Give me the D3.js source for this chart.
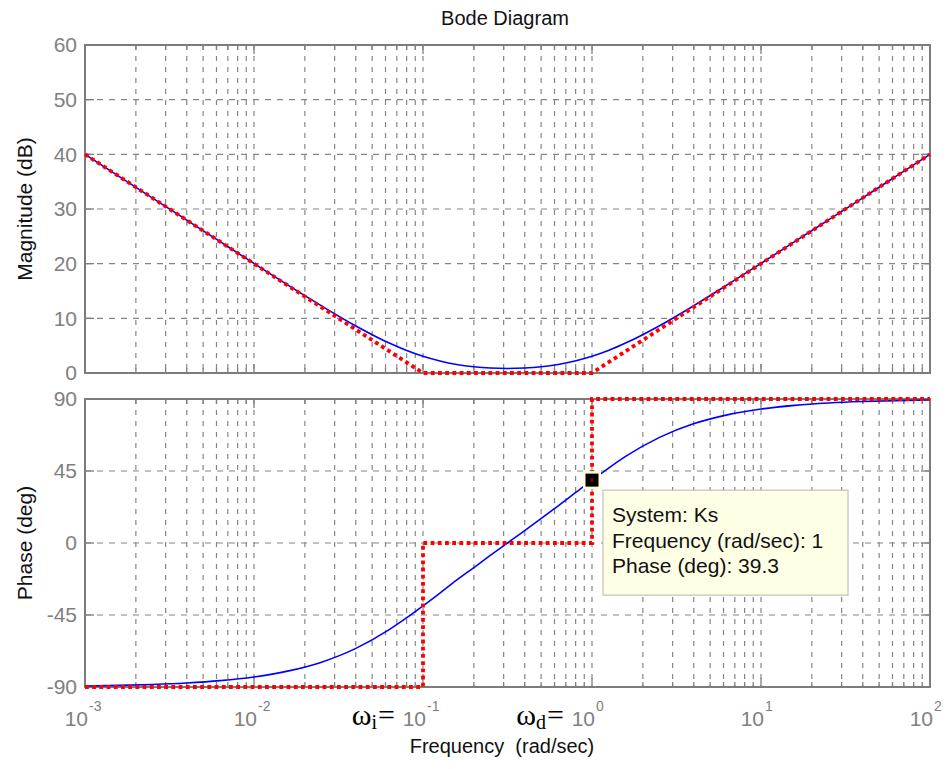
<!DOCTYPE html>
<html>
<head>
<meta charset="utf-8">
<script src="https://cdn.jsdelivr.net/npm/d3@7"></script>
<style>
  body { margin: 0; background: #fff; }
  svg text { font-family: "Liberation Sans", Arial, sans-serif; }
</style>
</head>
<body>
<svg id="chart" width="947" height="769"></svg>
<script>
// Frequency response of Ks, sampled on a log grid (rad/sec)
const freq = [0.001, 0.00158, 0.00251, 0.00398, 0.00631, 0.01, 0.0158, 0.0251, 0.0398, 0.0631,
  0.0794, 0.1, 0.126, 0.158, 0.2, 0.251, 0.316, 0.398, 0.501, 0.631, 0.794, 1,
  1.26, 1.58, 2.51, 3.98, 6.31, 10, 15.8, 25.1, 39.8, 63.1, 100];
const magnitudeDb = [40.0, 36.0, 32.0, 28.01, 24.02, 20.04, 16.11, 12.27, 8.65, 5.47,
  4.15, 3.05, 2.19, 1.56, 1.14, 0.91, 0.83, 0.91, 1.14, 1.56, 2.19, 3.05,
  4.15, 5.47, 8.65, 12.27, 16.11, 20.04, 24.02, 28.01, 32.0, 36.0, 40.0];
const phaseDeg = [-89.37, -89.0, -88.42, -87.49, -86.03, -83.72, -80.08, -74.46, -66.02, -54.14,
  -47.0, -39.29, -31.28, -23.24, -15.34, -7.6, 0, 7.6, 15.34, 23.25, 31.28, 39.29,
  47.0, 54.14, 66.02, 74.46, 80.08, 83.72, 86.03, 87.49, 88.42, 89.0, 89.37];

// Straight-line (asymptotic) approximations
const magAsymFreq = [0.001, 0.1, 1, 100];
const magAsymDb = [40, 0, 0, 40];
const phaseAsymFreq = [0.001, 0.1, 0.1, 1, 1, 100];
const phaseAsymDeg = [-90, -90, 0, 0, 90, 90];

// Axis ticks
const magTicks = [0, 10, 20, 30, 40, 50, 60];
const phaseTicks = [-90, -45, 0, 45, 90];
const decadeTicks = [0.001, 0.01, 0.1, 1, 10, 100];
const decadeExponents = ["-3", "-2", "-1", "0", "1", "2"];

// Data tip
const tipFreq = 1;
const tipPhase = 39.3;
const tipLines = ["System: Ks", "Frequency (rad/sec): 1", "Phase (deg): 39.3"];

// Corner frequency annotations
const cornerFreqs = [0.1, 1];
const cornerSubs = ["i", "d"];

const svg = d3.select("#chart");
svg.append("rect").attr("width", 947).attr("height", 769).attr("fill", "#fff");

const left = 85, right = 930;
const x = d3.scaleLog().domain([1e-3, 1e2]).range([left, right]);
const yMag = d3.scaleLinear().domain([0, 60]).range([373, 45]);
const yPh = d3.scaleLinear().domain([-90, 90]).range([687, 399]);

const gridColor = "#858585";
const axisColor = "#7c7c7c";
const tickColor = "#7f7f7f";
const labelGray = "#808080";
const allFreqTicks = x.ticks();
const isDecade = f => decadeTicks.some(d => Math.abs(d - f) / d < 1e-6);

function panel(y, yTicks) {
  const [yb, yt] = y.range();
  const g = svg.append("g");

  // vertical dashed grid
  g.append("g").selectAll("line")
    .data(allFreqTicks.filter(f => f > 1.0001e-3 && f < 99.99))
    .join("line")
    .attr("x1", d => x(d)).attr("x2", d => x(d))
    .attr("y1", yt).attr("y2", yb)
    .attr("stroke", gridColor).attr("stroke-width", 1.2)
    .attr("stroke-dasharray", "5,6");

  // horizontal dashed grid
  g.append("g").selectAll("line")
    .data(yTicks.slice(1, -1))
    .join("line")
    .attr("x1", left).attr("x2", right)
    .attr("y1", d => y(d)).attr("y2", d => y(d))
    .attr("stroke", gridColor).attr("stroke-width", 1.2)
    .attr("stroke-dasharray", "6,6");

  // inner tick marks on all four sides
  const ticks = g.append("g").attr("stroke", tickColor).attr("stroke-width", 1.3);
  allFreqTicks.forEach(f => {
    const len = isDecade(f) ? 9 : 5;
    ticks.append("line").attr("x1", x(f)).attr("x2", x(f)).attr("y1", yb).attr("y2", yb - len);
    ticks.append("line").attr("x1", x(f)).attr("x2", x(f)).attr("y1", yt).attr("y2", yt + len);
  });
  yTicks.forEach(v => {
    ticks.append("line").attr("x1", left).attr("x2", left + 9).attr("y1", y(v)).attr("y2", y(v));
    ticks.append("line").attr("x1", right).attr("x2", right - 9).attr("y1", y(v)).attr("y2", y(v));
  });

  // y tick labels via the axis generator
  const ax = g.append("g").attr("transform", `translate(${left},0)`)
    .call(d3.axisLeft(y).tickValues(yTicks).tickSize(0).tickPadding(8).tickFormat(d => String(d)));
  ax.select(".domain").remove();
  ax.selectAll("text").attr("fill", labelGray).attr("font-size", 21)
    .attr("font-family", "Liberation Sans, Arial, sans-serif");

  // frame
  g.append("rect").attr("x", left).attr("y", yt).attr("width", right - left).attr("height", yb - yt)
    .attr("fill", "none").attr("stroke", axisColor).attr("stroke-width", 2);
  return g;
}

const gMag = panel(yMag, magTicks);
const gPh = panel(yPh, phaseTicks);

const lineMag = d3.line().x((d, i) => x(freq[i])).y(d => yMag(d)).curve(d3.curveMonotoneX);
const linePh = d3.line().x((d, i) => x(freq[i])).y(d => yPh(d)).curve(d3.curveMonotoneX);

gMag.append("path").attr("d", lineMag(magnitudeDb))
  .attr("fill", "none").attr("stroke", "#0000ff").attr("stroke-width", 1.6);
gPh.append("path").attr("d", linePh(phaseDeg))
  .attr("fill", "none").attr("stroke", "#0000ff").attr("stroke-width", 1.6);

const redDot = { stroke: "#ff0000", "stroke-width": 3.8, "stroke-dasharray": "3.8,3.4", fill: "none" };
const asymMag = d3.line().x((d, i) => x(magAsymFreq[i])).y(d => yMag(d));
const asymPh = d3.line().x((d, i) => x(phaseAsymFreq[i])).y(d => yPh(d));
const pm = gMag.append("path").attr("d", asymMag(magAsymDb));
const pp = gPh.append("path").attr("d", asymPh(phaseAsymDeg));
Object.entries(redDot).forEach(([k, v]) => { pm.attr(k, v); pp.attr(k, v); });

// x tick labels (10 with superscript exponent)
const xl = svg.append("g").attr("fill", labelGray);
decadeTicks.forEach((f, i) => {
  xl.append("text").attr("x", x(f) + 3).attr("y", 726).attr("text-anchor", "end")
    .attr("font-size", 21).text("10");
  xl.append("text").attr("x", x(f) + 4).attr("y", 711).attr("text-anchor", "start")
    .attr("font-size", 14).text(decadeExponents[i]);
});

// corner frequency labels
cornerFreqs.forEach((f, i) => {
  const t = svg.append("text").attr("x", x(f) - 28).attr("y", 725).attr("text-anchor", "end")
    .attr("fill", "#000").style("font-family", "Liberation Serif, 'Times New Roman', serif")
    .attr("font-size", 30);
  t.append("tspan").text("ω");
  t.append("tspan").attr("font-size", 20).attr("dy", 4).text(cornerSubs[i]);
  t.append("tspan").attr("dy", -4).attr("dx", 1).text("=");
});

// titles
svg.append("text").attr("x", 505).attr("y", 25).attr("text-anchor", "middle")
  .attr("font-size", 20).attr("fill", "#111").text("Bode Diagram");
svg.append("text").attr("x", 502).attr("y", 753).attr("text-anchor", "middle")
  .attr("font-size", 20).attr("fill", "#111")
  .style("white-space", "pre").text("Frequency  (rad/sec)");
svg.append("text").attr("transform", `translate(32,${(yMag.range()[0] + yMag.range()[1]) / 2}) rotate(-90)`)
  .attr("text-anchor", "middle").attr("font-size", 21).attr("fill", "#111").text("Magnitude (dB)");
svg.append("text").attr("transform", `translate(32,${(yPh.range()[0] + yPh.range()[1]) / 2}) rotate(-90)`)
  .attr("text-anchor", "middle").attr("font-size", 21).attr("fill", "#111").text("Phase (deg)");

// data tip marker and box
const mx = x(tipFreq), my = yPh(tipPhase);
svg.append("rect").attr("x", mx - 9).attr("y", my - 9).attr("width", 18).attr("height", 18)
  .attr("fill", "#ffffd8");
svg.append("rect").attr("x", mx - 6.5).attr("y", my - 6.5).attr("width", 13).attr("height", 13)
  .attr("fill", "#000");
svg.append("rect").attr("x", mx - 1.5).attr("y", my - 1.5).attr("width", 3).attr("height", 3)
  .attr("fill", "#8b0000");

const bx = mx + 11, by = my + 10;
svg.append("rect").attr("x", bx).attr("y", by).attr("width", 245).attr("height", 105)
  .attr("fill", "#ffffe6").attr("stroke", "#b4b4b4").attr("stroke-width", 1);
tipLines.forEach((s, i) => {
  svg.append("text").attr("x", bx + 9).attr("y", by + 32 + i * 25.5)
    .attr("font-size", 21).attr("fill", "#111").text(s);
});
</script>
</body>
</html>
